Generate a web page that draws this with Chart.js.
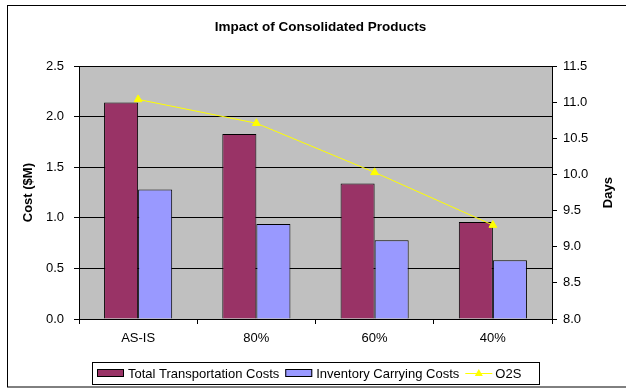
<!DOCTYPE html>
<html lang="en">
<head>
  <meta charset="UTF-8">
  <title>Impact of Consolidated Products</title>
  <script src="https://cdn.jsdelivr.net/npm/chart.js"></script>
  <style>
    body {
      margin: 0;
      background: #ffffff;
    }
    #chartBox {
      width: 626px;
      height: 388px;
    }
  </style>
</head>
<body>
  <div id="chartBox">
    <canvas id="consolidatedChart" width="626" height="388"></canvas>
  </div>

  <script>
    // Data
    const categories = ['AS-IS', '80%', '60%', '40%'];
    const transportCosts = [2.14, 1.83, 1.34, 0.96];
    const inventoryCosts = [1.28, 0.94, 0.78, 0.58];
    const o2sDays = [11.04, 10.71, 10.03, 9.30];

    const FONT = '"Liberation Sans", Arial, sans-serif';

    // gray plot area, outer frame
    const backdrop = {
      id: 'backdrop',
      beforeDraw(chart) {
        const { ctx, chartArea } = chart;
        ctx.save();
        ctx.fillStyle = '#ffffff';
        ctx.fillRect(0, 0, chart.width, chart.height);
        ctx.fillStyle = '#c0c0c0';
        ctx.fillRect(chartArea.left, chartArea.top,
          chartArea.right - chartArea.left, chartArea.bottom - chartArea.top);
        ctx.strokeStyle = '#000000';
        ctx.lineWidth = 1;
        ctx.strokeRect(7.5, 5.5, 700, 381.5);
        ctx.restore();
      }
    };

    // right axis title reads bottom-to-top like the left one
    const rightTitle = {
      id: 'rightTitle',
      afterDraw(chart) {
        const { ctx, chartArea } = chart;
        ctx.save();
        ctx.translate(608, (chartArea.top + chartArea.bottom) / 2);
        ctx.rotate(-Math.PI / 2);
        ctx.font = 'bold 13px ' + FONT;
        ctx.fillStyle = '#000000';
        ctx.textAlign = 'center';
        ctx.textBaseline = 'middle';
        ctx.fillText('Days', 0, 0);
        ctx.restore();
      }
    };

    // boxed legend under the chart
    const boxedLegend = {
      id: 'boxedLegend',
      afterDraw(chart) {
        const { ctx } = chart;
        const cy = 373;
        ctx.save();
        ctx.strokeStyle = '#000000';
        ctx.lineWidth = 1;
        ctx.strokeRect(92.5, 362.5, 447, 22);
        ctx.font = '13px ' + FONT;
        ctx.textBaseline = 'middle';
        ctx.fillStyle = '#000000';
        let x = 97;
        chart.data.datasets.forEach(ds => {
          if (ds.type === 'line') {
            ctx.strokeStyle = ds.borderColor;
            ctx.beginPath();
            ctx.moveTo(x, cy + 0.5);
            ctx.lineTo(x + 27, cy + 0.5);
            ctx.stroke();
            ctx.fillStyle = ds.pointBackgroundColor;
            ctx.beginPath();
            ctx.moveTo(x + 13.5, cy - 4);
            ctx.lineTo(x + 17.5, cy + 3);
            ctx.lineTo(x + 9.5, cy + 3);
            ctx.closePath();
            ctx.fill();
            x += 30;
          } else {
            ctx.fillStyle = ds.backgroundColor;
            ctx.fillRect(x, cy - 4, 27, 8);
            ctx.strokeStyle = '#000000';
            ctx.strokeRect(x + 0.5, cy - 3.5, 26, 7);
            x += 31;
          }
          ctx.fillStyle = '#000000';
          ctx.fillText(ds.label, x, cy + 1);
          x += ctx.measureText(ds.label).width + 6;
        });
        ctx.restore();
      }
    };

    new Chart(document.getElementById('consolidatedChart'), {
      data: {
        labels: categories,
        datasets: [
          {
            type: 'bar',
            label: 'Total Transportation Costs',
            data: transportCosts,
            yAxisID: 'y',
            backgroundColor: '#993366',
            borderColor: '#000000',
            borderWidth: 1,
            order: 1
          },
          {
            type: 'bar',
            label: 'Inventory Carrying Costs',
            data: inventoryCosts,
            yAxisID: 'y',
            backgroundColor: '#9999ff',
            borderColor: '#000000',
            borderWidth: 1,
            order: 1
          },
          {
            type: 'line',
            label: 'O2S',
            data: o2sDays,
            yAxisID: 'y1',
            borderColor: '#ffff00',
            borderWidth: 1,
            pointStyle: 'triangle',
            pointRadius: 4.5,
            pointBackgroundColor: '#ffff00',
            pointBorderColor: '#ffff00',
            order: 0
          }
        ]
      },
      options: {
        responsive: false,
        animation: false,
        devicePixelRatio: 1,
        layout: { padding: { left: 15, right: 0, top: 0, bottom: 0 } },
        datasets: {
          bar: { categoryPercentage: 0.576, barPercentage: 1.0 }
        },
        plugins: {
          legend: { display: false },
          tooltip: { enabled: false },
          title: {
            display: true,
            text: 'Impact of Consolidated Products',
            color: '#000000',
            font: { family: FONT, size: 13.5, weight: 'bold' },
            padding: { top: 19, bottom: 31 }
          }
        },
        scales: {
          x: {
            offset: true,
            grid: { offset: true, drawOnChartArea: false, color: '#000000', tickLength: 5 },
            border: { color: '#000000' },
            ticks: { color: '#000000', padding: 7, font: { family: FONT, size: 13 } },
            afterFit(scale) { scale.height = 69; }
          },
          y: {
            position: 'left',
            min: 0,
            max: 2.5,
            ticks: {
              stepSize: 0.5,
              color: '#000000',
              padding: 10,
              font: { family: FONT, size: 13 },
              callback: v => v.toFixed(1)
            },
            grid: { color: '#000000', tickLength: 5 },
            border: { color: '#000000' },
            title: {
              display: true,
              text: 'Cost ($M)',
              color: '#000000',
              font: { family: FONT, size: 13, weight: 'bold' },
              padding: { top: 6, bottom: 0 }
            },
            afterFit(scale) { scale.width = 64; }
          },
          y1: {
            position: 'right',
            min: 8,
            max: 11.5,
            ticks: {
              stepSize: 0.5,
              color: '#000000',
              padding: 6,
              font: { family: FONT, size: 13 },
              callback: v => v.toFixed(1)
            },
            grid: { drawOnChartArea: false, color: '#000000', tickLength: 5 },
            border: { color: '#000000' },
            afterFit(scale) { scale.width = 74; }
          }
        }
      },
      plugins: [backdrop, rightTitle, boxedLegend]
    });
  </script>
</body>
</html>
